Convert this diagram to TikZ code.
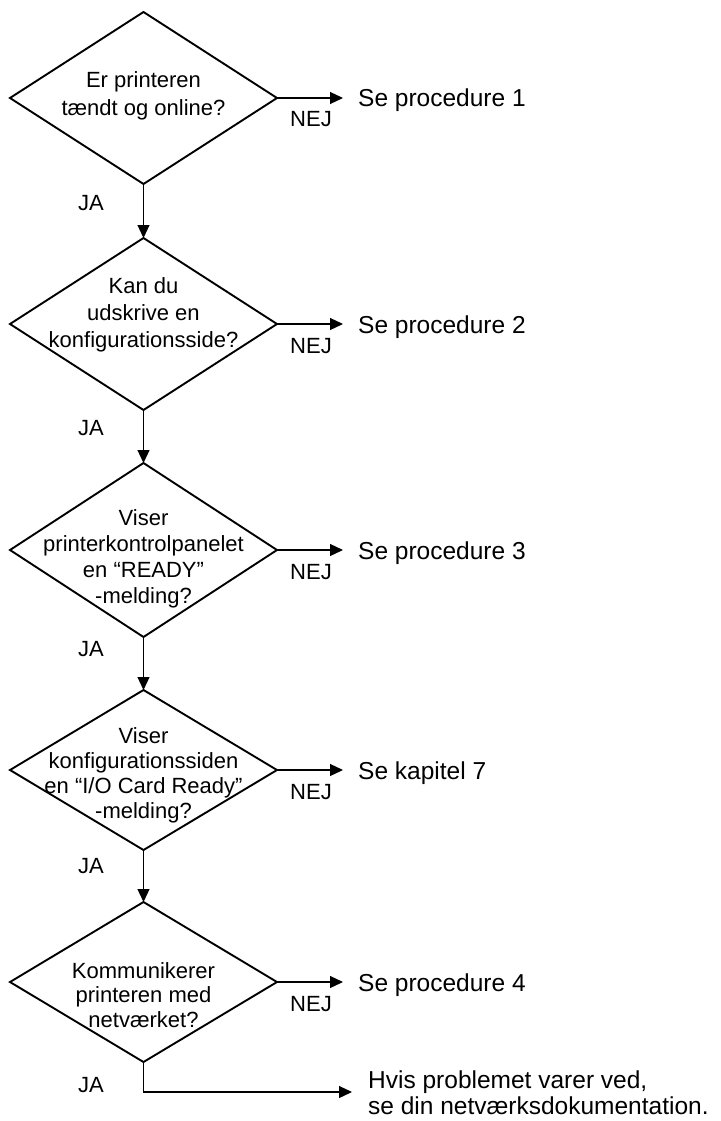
\documentclass[tikz,border=0pt]{standalone}
\usepackage{fontspec}
\setmainfont{Liberation Sans}
\usetikzlibrary{shapes.geometric,arrows.meta}
\newcommand{\mlines}[1]{\begin{tabular}[t]{@{}c@{}}#1\end{tabular}}
\newcommand{\llines}[1]{\begin{tabular}[t]{@{}l@{}}#1\end{tabular}}
\begin{document}
\begin{tikzpicture}[x=1pt,y=-1pt,
  dia/.style={diamond, draw, line width=1.9pt, inner sep=0pt, outer sep=0pt, minimum width=267pt},
  qtext/.style={inner sep=0pt, anchor=base},
  lbl/.style={inner sep=0pt, anchor=base, font=\fontsize{22}{26}\selectfont},
  res/.style={inner sep=0pt, anchor=base west, font=\fontsize{24.5}{26}\selectfont},
  conn/.style={line width=1.2pt, -{Triangle[length=13pt,width=12pt]}},
]
\useasboundingbox (0,0) rectangle (720,1121);

% decision diamonds
\node[dia, minimum height=172pt] (d1) at (143.5,98) {};
\node[dia, minimum height=172pt] (d2) at (143.5,324) {};
\node[dia, minimum height=174pt] (d3) at (143.5,550) {};
\node[dia, minimum height=160pt] (d4) at (143.5,770) {};
\node[dia, minimum height=160pt] (d5) at (143.5,982) {};

% question texts
\node[qtext, font=\fontsize{22}{28}\selectfont] (t1) at (143.5,88) {\mlines{Er printeren\\tændt og online?}};
\node[qtext, font=\fontsize{22}{27}\selectfont] (t2) at (143.5,293) {\mlines{Kan du\\udskrive en\\konfigurationsside?}};
\node[qtext, font=\fontsize{22}{26}\selectfont] (t3) at (143.5,525) {\mlines{Viser\\printerkontrolpanelet\\en “READY”\\-melding?}};
\node[qtext, font=\fontsize{22}{25}\selectfont] (t4) at (143.5,743) {\mlines{Viser\\konfigurationssiden\\en “I/O Card Ready”\\-melding?}};
\node[qtext, font=\fontsize{22}{24.5}\selectfont] (t5) at (143.5,978) {\mlines{Kommunikerer\\printeren med\\netværket?}};

% results
\node[res] (r1) at (358,107) {Se procedure 1};
\node[res] (r2) at (358,333) {Se procedure 2};
\node[res] (r3) at (358,559) {Se procedure 3};
\node[res] (r4) at (358,779) {Se kapitel 7};
\node[res] (r5) at (358,991) {Se procedure 4};
\node[res] (r6) at (368,1088) {\llines{Hvis problemet varer ved,\\se din netværksdokumentation.}};

% NEJ labels
\node[lbl] (n1) at (311,127) {NEJ};
\node[lbl] (n2) at (311,353) {NEJ};
\node[lbl] (n3) at (311,579) {NEJ};
\node[lbl] (n4) at (311,799) {NEJ};
\node[lbl] (n5) at (311,1011) {NEJ};

% JA labels
\node[lbl] (j1) at (91,210) {JA};
\node[lbl] (j2) at (91,435) {JA};
\node[lbl] (j3) at (91,656) {JA};
\node[lbl] (j4) at (91,873) {JA};
\node[lbl] (j5) at (91,1092) {JA};

% NEJ connectors
\draw[conn, shorten >=15pt] (d1.east) -- (d1.east -| r1.west);
\draw[conn, shorten >=15pt] (d2.east) -- (d2.east -| r2.west);
\draw[conn, shorten >=15pt] (d3.east) -- (d3.east -| r3.west);
\draw[conn, shorten >=15pt] (d4.east) -- (d4.east -| r4.west);
\draw[conn, shorten >=15pt] (d5.east) -- (d5.east -| r5.west);

% JA connectors
\draw[conn] (d1.south) -- (d2.north);
\draw[conn] (d2.south) -- (d3.north);
\draw[conn] (d3.south) -- (d4.north);
\draw[conn] (d4.south) -- (d5.north);
\coordinate (e5) at (352,1092);
\draw[conn] (d5.south) |- (e5);
\end{tikzpicture}
\end{document}
